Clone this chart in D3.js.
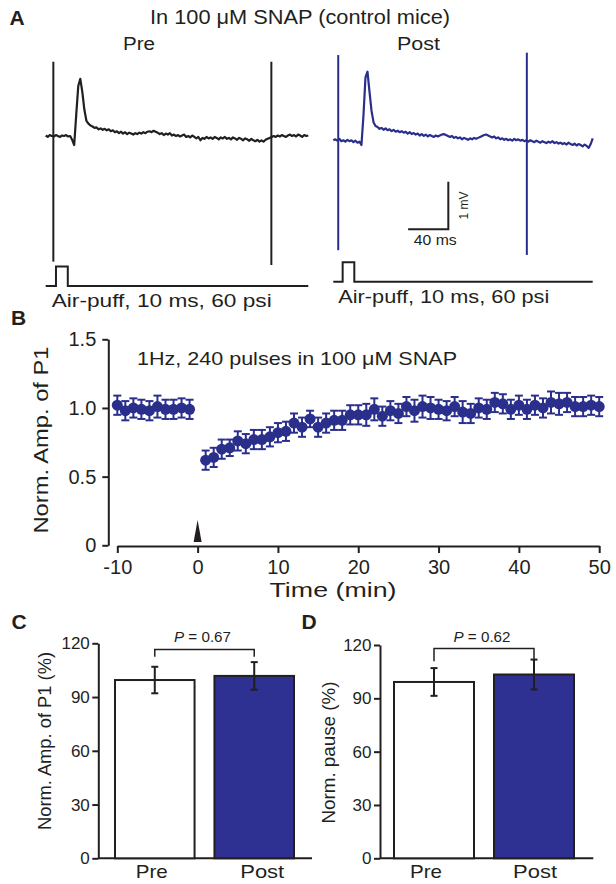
<!DOCTYPE html>
<html><head><meta charset="utf-8">
<script src="https://cdn.jsdelivr.net/npm/d3@7"></script>
<style>
body{margin:0;background:#fff}
svg{display:block}
text{font-family:"Liberation Sans",Arial,Helvetica,sans-serif;fill:#231f20}
</style>
</head><body>
<svg id="c" width="616" height="884"></svg>
<script>
// ---------------- DATA ----------------
// Panel A traces: membrane potential (mV, relative to baseline), sampled every 2 ms
const traceStep = 2;
const preTrace = [
 0.01,-0.02,0.02,0.00,-0.01,0.02,0.00,-0.02,0.01,0.00,
 0.02,-0.01,0.00,-0.08,-0.19,0.45,1.05,1.20,0.92,0.55,
 0.32,0.26,0.22,0.20,0.17,0.18,0.14,0.16,0.13,0.15,
 0.12,0.14,0.10,0.12,0.08,0.10,0.06,0.09,0.05,0.08,
 0.04,0.07,0.05,0.03,0.06,0.04,0.07,0.05,0.08,0.06,
 0.09,0.10,0.08,0.11,0.09,0.07,0.04,0.06,0.02,0.05,
 0.03,0.06,0.01,0.03,0.00,0.02,-0.01,0.01,0.03,-0.02,
 0.00,-0.03,0.01,-0.02,-0.05,-0.02,-0.09,-0.04,-0.06,-0.02,
 -0.05,-0.03,-0.06,-0.02,-0.04,-0.07,-0.03,-0.05,-0.02,-0.06,
 -0.04,-0.07,-0.03,-0.05,-0.08,-0.04,-0.06,-0.09,-0.05,-0.07,
 -0.10,-0.06,-0.09,-0.11,-0.08,-0.12,-0.09,-0.12,-0.08,-0.06,
 -0.04,-0.02,0.00,-0.02,0.01,-0.01,0.02,0.00,-0.02,0.01,
 0.03,0.00,0.02,-0.01,0.03,0.01,-0.02,0.02,0.00,0.01];
const postTrace = [
 -0.02,0.00,-0.03,0.01,-0.04,-0.02,-0.05,-0.01,-0.04,-0.02,
 -0.06,-0.03,-0.07,-0.05,-0.12,0.50,1.30,1.42,1.00,0.60,
 0.36,0.28,0.26,0.22,0.24,0.20,0.23,0.19,0.21,0.17,
 0.20,0.16,0.18,0.15,0.17,0.14,0.16,0.12,0.15,0.11,
 0.13,0.10,0.12,0.08,0.11,0.07,0.10,0.06,0.09,0.07,
 0.05,0.08,0.06,0.08,0.10,0.11,0.09,0.07,0.05,0.07,
 0.03,0.05,0.02,0.04,0.00,0.03,0.01,-0.01,0.02,0.00,
 0.03,0.01,0.03,0.05,0.07,0.09,0.10,0.08,0.06,0.04,
 0.06,0.02,0.04,0.00,0.02,-0.01,0.01,-0.02,0.00,-0.03,
 0.01,-0.02,0.00,-0.03,-0.01,-0.04,-0.02,-0.05,-0.02,-0.04,
 -0.06,-0.03,-0.05,-0.07,-0.04,-0.06,-0.08,-0.05,-0.07,-0.04,
 -0.08,-0.06,-0.09,-0.07,-0.10,-0.08,-0.11,-0.07,-0.10,-0.12,
 -0.09,-0.13,-0.10,-0.12,-0.15,-0.11,-0.14,-0.18,-0.10,0.02];
// stimulus artifacts: [time ms, top mV, bottom mV]
const preArtifacts = [[7.5,1.56,-2.64],[221.7,1.56,-2.71]];
const postArtifacts = [[4.9,1.77,-2.33],[192.5,1.82,-2.43]];
// air-puff pulse on/off (ms)
const prePulse = [10.1,21.7];
const postPulse = [9.3,20.9];
// scale bar corner (ms, mV) and sizes
const scaleBarCorner = [114.4,-1.89];
const scaleBarSize = [40,1];

// Panel B
const bPreTime = [-10,-9,-8,-7,-6,-5,-4,-3,-2,-1];
const bPreMean = [1.02,0.98,1.00,0.99,0.98,1.01,0.99,0.99,1.00,0.99];
const bPreSem  = [0.07,0.07,0.07,0.07,0.07,0.08,0.07,0.07,0.07,0.07];
const bPostTime = d3.range(1,51);
const bPostMean = [
 0.62,0.64,0.70,0.71,0.76,0.74,0.77,0.77,0.79,0.82,
 0.83,0.89,0.86,0.92,0.86,0.89,0.91,0.91,0.95,0.95,
 0.95,0.99,0.94,0.98,0.96,1.01,0.98,1.01,1.00,0.99,
 0.98,1.01,0.97,0.96,1.00,0.99,1.04,1.03,0.99,1.02,
 0.99,1.02,1.00,1.04,1.03,1.04,1.01,1.01,1.02,1.01];
const bPostSem = [
 0.07,0.07,0.07,0.06,0.07,0.07,0.07,0.07,0.07,0.07,
 0.07,0.07,0.07,0.06,0.07,0.07,0.07,0.07,0.07,0.07,
 0.08,0.08,0.07,0.07,0.07,0.07,0.08,0.08,0.08,0.07,
 0.07,0.07,0.08,0.07,0.07,0.07,0.07,0.07,0.07,0.07,
 0.07,0.07,0.07,0.08,0.08,0.07,0.07,0.07,0.07,0.07];
const bXTicks = [-10,0,10,20,30,40,50];
const bYTicks = [0,0.5,1.0,1.5];
const stimTime = 0;

// Panels C and D
const barCats = ["Pre","Post"];
const cMeans = [99.5,101.8];
const cSems  = [7.4,7.7];
const cP = "0.67";
const dMeans = [99.2,103.4];
const dSems  = [7.8,8.4];
const dP = "0.62";
const barYTicks = [0,30,60,90,120];

// ---------------- DRAWING ----------------
const ink = "#231f20", traceBlue = "#2b2f8c", barBlue = "#2e3192";
const svg = d3.select("#c");
svg.append("rect").attr("width",616).attr("height",884).attr("fill","#fff");

function fit(sel, w){ sel.attr("textLength", w).attr("lengthAdjust","spacingAndGlyphs"); }
function txt(x,y,s,size,anchor,weight){
  return svg.append("text").attr("x",x).attr("y",y).attr("text-anchor",anchor||"start")
    .style("font-size",size+"px").style("font-weight",weight||"normal").text(s);
}

// panel letters
txt(9.5,25,"A",21,"start","bold");
txt(11,325,"B",21,"start","bold");
txt(11.5,628.5,"C",21,"start","bold");
txt(301.5,628.5,"D",21,"start","bold");

// ---- Panel A ----
txt(300,24,"In 100 μM SNAP (control mice)",19.5,"middle").call(fit,300);
txt(139,50,"Pre",18,"middle").call(fit,32);
txt(418.5,50,"Post",18,"middle").call(fit,43);

function drawTrace(values, xr, y0, color, artifacts, pulse, pulseBase){
  const tMax = (values.length-1)*traceStep;
  const x = d3.scaleLinear().domain([0,tMax]).range(xr);
  const y = d3.scaleLinear().domain([0,1]).range([y0, y0-47.6]);
  const g = svg.append("g");
  g.append("path").datum(values)
    .attr("d", d3.line().x((d,i)=>x(i*traceStep)).y(d=>y(d)))
    .attr("fill","none").attr("stroke",color).attr("stroke-width",2.2).attr("stroke-linejoin","round");
  g.selectAll("line.art").data(artifacts).join("line").attr("class","art")
    .attr("x1",d=>x(d[0])).attr("x2",d=>x(d[0]))
    .attr("y1",d=>y(d[1])).attr("y2",d=>y(d[2]))
    .attr("stroke",color).attr("stroke-width",2);
  const yp = d3.scaleLinear().domain([0,1]).range([pulseBase, pulseBase-19.5]);
  const pts = [[0,0],[pulse[0],0],[pulse[0],1],[pulse[1],1],[pulse[1],0],[tMax,0]];
  g.append("path").datum(pts)
    .attr("d", d3.line().x(d=>x(d[0])).y(d=>yp(d[1])))
    .attr("fill","none").attr("stroke",ink).attr("stroke-width",2);
  return {x,y};
}
drawTrace(preTrace,[45.7,308.3],136,ink,preArtifacts,prePulse,286);
const post = drawTrace(postTrace,[333.3,592.7],139.3,traceBlue,postArtifacts,postPulse,281.7);

// scale bar
{
  const [t0,v0] = scaleBarCorner;
  const g = svg.append("g");
  g.append("path").attr("d",
     `M${post.x(t0-scaleBarSize[0])},${post.y(v0)}H${post.x(t0)}V${post.y(v0+scaleBarSize[1])}`)
    .attr("fill","none").attr("stroke",ink).attr("stroke-width",2);
  svg.append("text").attr("transform",`translate(468,${(post.y(v0)+post.y(v0+1))/2}) rotate(-90)`)
    .attr("text-anchor","middle").style("font-size","13px").text("1 mV").call(fit,28);
  txt((post.x(t0-40)+post.x(t0))/2+7,245,"40 ms",14.5,"middle").call(fit,43);
}
txt(51.7,307,"Air-puff, 10 ms, 60 psi",19,"start").call(fit,220);
txt(338.3,303.3,"Air-puff, 10 ms, 60 psi",19,"start").call(fit,211);

// ---- Panel B ----
const xB = d3.scaleLinear().domain([-10,50]).range([117.3,599.2]);
const yB = d3.scaleLinear().domain([0,1.5]).range([545.3,339.3]);
const gyB = svg.append("g").attr("transform","translate(108.3,0)")
  .call(d3.axisLeft(yB).tickValues(bYTicks).tickSize(6).tickSizeOuter(0).tickPadding(6)
        .tickFormat(d=> d===0 ? "0" : d3.format(".1f")(d)));
const gxB = svg.append("g").attr("transform","translate(0,546)")
  .call(d3.axisBottom(xB).tickValues(bXTicks).tickSize(7).tickSizeOuter(0).tickPadding(7)
        .tickFormat(d=>String(d)));
[gyB,gxB].forEach(g=>{
  g.select(".domain").attr("stroke",ink).attr("stroke-width",2);
  g.selectAll(".tick line").attr("stroke",ink).attr("stroke-width",2);
  g.selectAll(".tick text").style("font-size","20px").style("font-family",'"Liberation Sans",Arial,sans-serif').attr("fill",ink);
});
svg.append("text").attr("transform","translate(47.5,440) rotate(-90)").attr("text-anchor","middle")
  .style("font-size","20.5px").text("Norm. Amp. of P1").call(fit,187);
txt(333,596.7,"Time (min)",21,"middle").call(fit,127);
txt(137,364.5,"1Hz, 240 pulses in 100 μM SNAP",19,"start").call(fit,320);

// stimulus arrowhead
svg.append("path")
  .attr("d",`M${xB(stimTime)},520 L${xB(stimTime)+4},542 L${xB(stimTime)-4},542 Z`)
  .attr("fill",ink);

const bPre = bPreTime.map((t,i)=>({t,m:bPreMean[i],s:bPreSem[i]}));
const bPost = bPostTime.map((t,i)=>({t,m:bPostMean[i],s:bPostSem[i]}));
const bAll = bPre.concat(bPost);
const gB = svg.append("g");
const eb = gB.selectAll("g.eb").data(bAll).join("g").attr("class","eb")
  .attr("stroke",traceBlue).attr("stroke-width",2);
eb.append("line").attr("x1",d=>xB(d.t)).attr("x2",d=>xB(d.t)).attr("y1",d=>yB(d.m-d.s)).attr("y2",d=>yB(d.m+d.s));
eb.append("line").attr("x1",d=>xB(d.t)-4).attr("x2",d=>xB(d.t)+4).attr("y1",d=>yB(d.m-d.s)).attr("y2",d=>yB(d.m-d.s));
eb.append("line").attr("x1",d=>xB(d.t)-4).attr("x2",d=>xB(d.t)+4).attr("y1",d=>yB(d.m+d.s)).attr("y2",d=>yB(d.m+d.s));
gB.selectAll("circle").data(bAll).join("circle")
  .attr("cx",d=>xB(d.t)).attr("cy",d=>yB(d.m)).attr("r",5.5).attr("fill",traceBlue);

// ---- Panels C & D ----
function barPanel(o){
  const x = d3.scaleBand().domain(barCats).range(o.barRange).paddingInner(0.2).paddingOuter(0);
  const y = d3.scaleLinear().domain([0,120]).range([858.3,o.yTop]);
  const g = svg.append("g");
  g.append("line").attr("x1",o.axisX).attr("x2",o.axisEnd).attr("y1",y(0)).attr("y2",y(0))
    .attr("stroke",ink).attr("stroke-width",2);
  const ya = g.append("g").attr("transform",`translate(${o.axisX},0)`)
    .call(d3.axisLeft(y).tickValues(barYTicks).tickSize(6).tickSizeOuter(0).tickPadding(2.5));
  ya.select(".domain").attr("stroke",ink).attr("stroke-width",2);
  ya.selectAll(".tick line").attr("stroke",ink).attr("stroke-width",2);
  ya.selectAll(".tick text").style("font-size","17px").style("font-family",'"Liberation Sans",Arial,sans-serif').attr("fill",ink);
  const data = barCats.map((c,i)=>({c,m:o.means[i],s:o.sems[i]}));
  g.selectAll("rect.bar").data(data).join("rect").attr("class","bar")
    .attr("x",d=>x(d.c)).attr("width",x.bandwidth())
    .attr("y",d=>y(d.m)).attr("height",d=>y(0)-y(d.m))
    .attr("fill",(d,i)=> i===0 ? "#fff" : barBlue).attr("stroke",ink).attr("stroke-width",2);
  const cx = d=>x(d.c)+x.bandwidth()/2;
  const e = g.selectAll("g.err").data(data).join("g").attr("class","err").attr("stroke",ink).attr("stroke-width",2);
  e.append("line").attr("x1",cx).attr("x2",cx).attr("y1",d=>y(d.m-d.s)).attr("y2",d=>y(d.m+d.s));
  e.append("line").attr("x1",d=>cx(d)-3.5).attr("x2",d=>cx(d)+3.5).attr("y1",d=>y(d.m-d.s)).attr("y2",d=>y(d.m-d.s));
  e.append("line").attr("x1",d=>cx(d)-3.5).attr("x2",d=>cx(d)+3.5).attr("y1",d=>y(d.m+d.s)).attr("y2",d=>y(d.m+d.s));
  const x1 = cx(data[0]), x2 = cx(data[1]);
  g.append("path").attr("d",`M${x1},${y(o.drop[0])}V${y(o.level)}H${x2}V${y(o.drop[1])}`)
    .attr("fill","none").attr("stroke",ink).attr("stroke-width",1.5);
  const pt = g.append("text").attr("x",(x1+x2)/2 - 2).attr("y",641.7).attr("text-anchor","middle").style("font-size","14px");
  pt.append("tspan").style("font-style","italic").text("P");
  pt.append("tspan").text(" = " + o.p);
  fit(pt,57);
  g.selectAll("text.cat").data(data).join("text").attr("class","cat")
    .attr("x",(d,i)=>cx(d)+o.labelDx[i]).attr("y",878.3).attr("text-anchor","middle")
    .style("font-size","19px").text(d=>d.c)
    .each(function(d,i){ fit(d3.select(this), i===0 ? 32 : 44); });
  g.append("text").attr("transform",`translate(${o.labelX},${o.labelY}) rotate(-90)`)
    .attr("text-anchor","middle").style("font-size","18px").text(o.ylabel).call(fit,o.labelW);
}
barPanel({barRange:[115,294], yTop:643.3, axisX:98.3, axisEnd:312, means:cMeans, sems:cSems,
  level:116.6, drop:[112.5,112.5], p:cP, labelDx:[-3,8], labelX:50.5, labelY:741, labelW:178,
  ylabel:"Norm. Amp. of P1 (%)"});
barPanel({barRange:[394,574], yTop:645, axisX:380, axisEnd:593.3, means:dMeans, sems:dSems,
  level:118.1, drop:[110.8,112], p:dP, labelDx:[-8,1], labelX:334.5, labelY:752.5, labelW:142,
  ylabel:"Norm. pause (%)"});
</script>
</body></html>
